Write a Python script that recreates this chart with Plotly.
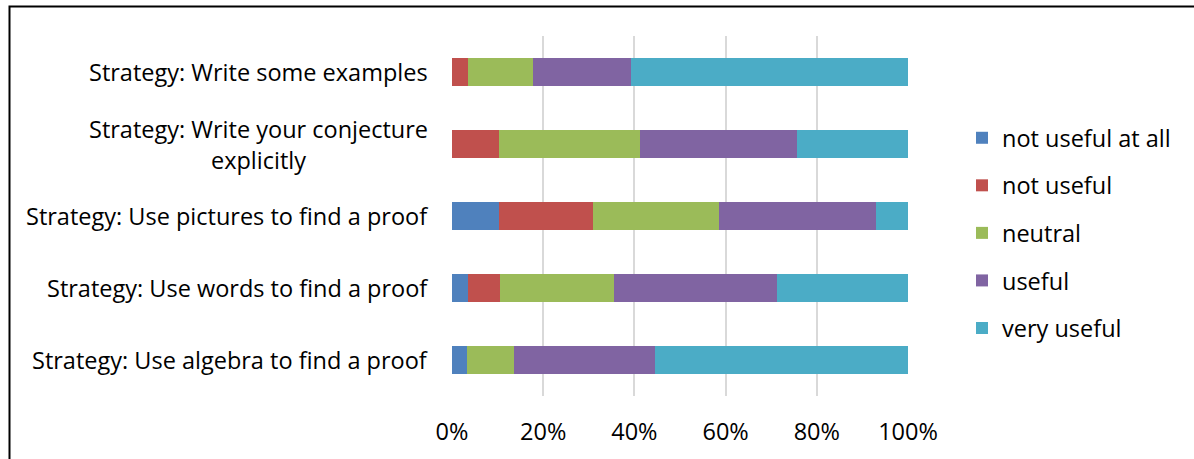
import plotly.graph_objects as go

categories = [
    "Strategy: Write some examples",
    "Strategy: Write your conjecture<br>explicitly",
    "Strategy: Use pictures to find a proof",
    "Strategy: Use words to find a proof",
    "Strategy: Use algebra to find a proof",
]
series_names = ["not useful at all", "not useful", "neutral", "useful", "very useful"]
not_useful_at_all = [0.0, 0.0, 10.2, 3.4, 3.2]
not_useful = [3.4, 10.2, 20.8, 7.2, 0.0]
neutral = [14.4, 31.0, 27.6, 24.9, 10.5]
useful = [21.4, 34.5, 34.4, 35.8, 30.9]
very_useful = [60.8, 24.3, 7.1, 28.7, 55.4]
tick_values = [0, 20, 40, 60, 80, 100]
tick_labels = ["0%", "20%", "40%", "60%", "80%", "100%"]

colors = ["#4F81BD", "#C0504D", "#9BBB59", "#8064A2", "#4BACC6"]
FONT = "Open Sans"
FS = 23.5

fig = go.Figure()
for i, (name, vals) in enumerate(zip(series_names, [not_useful_at_all, not_useful, neutral, useful, very_useful])):
    fig.add_trace(go.Bar(
        y=categories, x=vals, name=name, orientation="h",
        marker=dict(color=colors[i], line=dict(width=0)),
        width=0.395, legendgroup=name,
    ))

for c in categories:
    fig.add_annotation(
        x=0, xref="paper", xanchor="right", xshift=-22,
        y=c, yref="y", text=c, showarrow=False, align="center",
        font=dict(family=FONT, size=FS, color="#000000"),
    )

L, T, W, H = 452, 36, 456, 360
def px(x):
    return (x - L) / W
def py(y):
    return 1 - (y - T) / H

fig.add_shape(type="rect", xref="paper", yref="paper",
              x0=px(9.5), x1=px(1210), y0=py(480), y1=py(6.5),
              line=dict(color="#000000", width=2), fillcolor="rgba(0,0,0,0)", layer="below")

fig.update_layout(
    barmode="stack",
    width=1194, height=459,
    margin=dict(l=L, r=1194 - L - W, t=T, b=459 - T - H, pad=0),
    paper_bgcolor="white", plot_bgcolor="white",
    font=dict(family=FONT, size=FS, color="#000000"),
    legend=dict(
        x=px(962), xanchor="left", y=py(116), yanchor="top",
        traceorder="grouped", tracegroupgap=14,
        font=dict(family=FONT, size=FS, color="#000000"),
        bgcolor="rgba(0,0,0,0)",
    ),
    xaxis=dict(
        range=[0, 100], tickvals=tick_values, ticktext=tick_labels,
        showgrid=True, gridcolor="#D9D9D9", gridwidth=1.5,
        zeroline=False, showline=False, ticks="", ticklabelstandoff=19,
        tickfont=dict(family=FONT, size=FS, color="#000000"), fixedrange=True,
    ),
    yaxis=dict(
        type="category", autorange="reversed", showticklabels=False,
        showgrid=False, zeroline=False, showline=False, ticks="",
    ),
)

fig.write_html("out.html")
